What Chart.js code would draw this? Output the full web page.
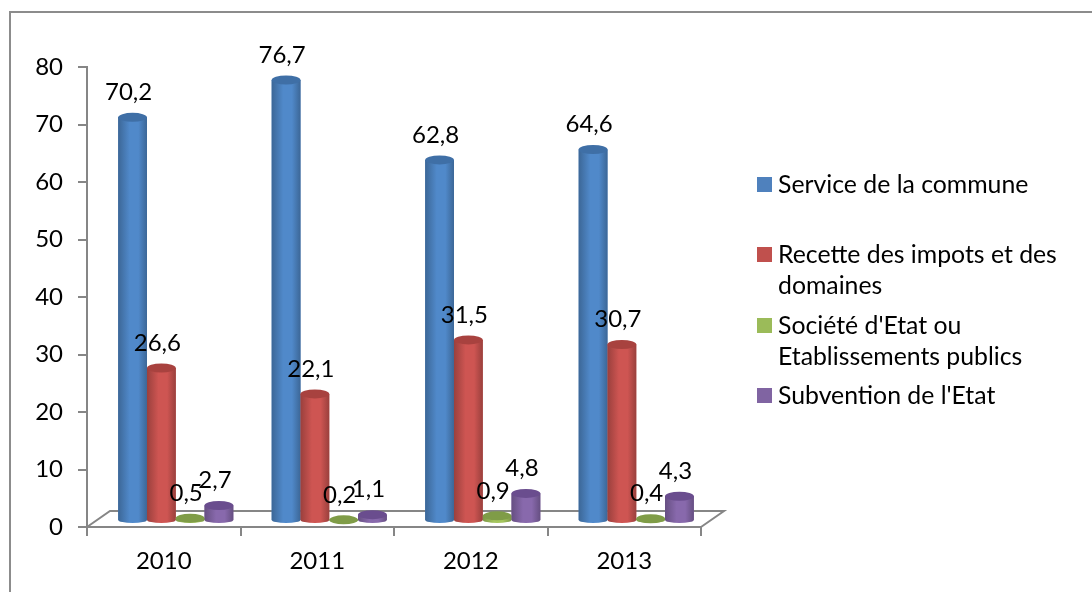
<!DOCTYPE html>
<html>
<head>
<meta charset="utf-8">
<script src="https://cdn.jsdelivr.net/npm/chart.js@4"></script>
<style>
  html, body { margin: 0; padding: 0; background: #fff; overflow: hidden; }
  #frame { position: absolute; left: 9px; top: 11px; width: 1200px; height: 700px; border: 2px solid #8c8c8c; }
  #wrap { position: absolute; left: 0; top: 0; width: 1092px; height: 592px; }
</style>
</head>
<body>
<div id="frame"></div>
<div id="wrap"><canvas id="chart" width="1092" height="592"></canvas></div>
<script>
// Données
const years = ["2010", "2011", "2012", "2013"];
const serviceCommune = [70.2, 76.7, 62.8, 64.6];
const recetteImpots = [26.6, 22.1, 31.5, 30.7];
const societeEtat = [0.5, 0.2, 0.9, 0.4];
const subventionEtat = [2.7, 1.1, 4.8, 4.3];

const seriesNames = [
    ["Service de la commune"],
    ["Recette des impots et des", "domaines"],
    ["Société d'Etat ou", "Etablissements publics"],
    ["Subvention de l'Etat"]
];
const seriesColors = ["#4f81bd", "#c0504d", "#9bbb59", "#8064a2"];
const edgeColors = ["#3c6797", "#9a403d", "#7c9647", "#664f82"];
const lightColors = ["#5089ca", "#ce5552", "#a5c65e", "#8869ac"];
const topColors = ["#3f6fa6", "#a8423f", "#7f9c47", "#6a4d8e"];

const LABEL_FONT = '24px Lato';
const LEGEND_FONT = '24.8px Lato';
const AXIS_COLOR = "#868686";
const DEPTH_X = 23, DEPTH_Y = 16;

// Décalage des barres vers le fond du plancher 3D
const BAR_SHIFT_X = 12, BAR_SHIFT_Y = -6;

// Plancher en perspective, derrière les barres
const floorPlugin = {
    id: "floor",
    beforeDatasetsDraw(chart) {
        const { ctx, chartArea: a } = chart;
        ctx.save();
        ctx.strokeStyle = AXIS_COLOR;
        ctx.lineWidth = 2;
        ctx.beginPath();
        ctx.moveTo(a.left, a.bottom);
        ctx.lineTo(a.left + DEPTH_X, a.bottom - DEPTH_Y);
        ctx.lineTo(a.right + DEPTH_X, a.bottom - DEPTH_Y);
        ctx.lineTo(a.right, a.bottom);
        ctx.stroke();
        ctx.restore();
        ctx.save();
        ctx.translate(BAR_SHIFT_X, BAR_SHIFT_Y);
    },
    afterDatasetsDraw(chart) {
        const { ctx } = chart;
        // Cylindres posés sur les barres de la librairie
        chart.data.datasets.forEach((ds, i) => {
            chart.getDatasetMeta(i).data.forEach(bar => {
                drawCylinder(ctx, bar, i);
            });
        });
        // Étiquettes de valeurs
        ctx.font = LABEL_FONT;
        ctx.fillStyle = "#000";
        ctx.textAlign = "center";
        ctx.textBaseline = "middle";
        chart.data.datasets.forEach((ds, i) => {
            chart.getDatasetMeta(i).data.forEach((bar, j) => {
                ctx.fillText(String(ds.data[j]).replace(".", ","), bar.x - 4, bar.y - 25);
            });
        });
        ctx.restore();
    }
};

function drawCylinder(ctx, bar, i) {
    const left = bar.x - bar.width / 2, right = bar.x + bar.width / 2;
    const rx = bar.width / 2, ryTop = 4.5, ryBottom = 3;
    const grad = ctx.createLinearGradient(left, 0, right, 0);
    grad.addColorStop(0, edgeColors[i]);
    grad.addColorStop(0.4, lightColors[i]);
    grad.addColorStop(0.7, lightColors[i]);
    grad.addColorStop(1, edgeColors[i]);
    ctx.fillStyle = grad;
    ctx.beginPath();
    ctx.moveTo(left, bar.y);
    ctx.lineTo(left, bar.base);
    ctx.ellipse(bar.x, bar.base, rx, ryBottom, 0, Math.PI, 0, true);
    ctx.lineTo(right, bar.y);
    ctx.closePath();
    ctx.fill();
    ctx.fillStyle = topColors[i];
    ctx.beginPath();
    ctx.ellipse(bar.x, bar.y, rx, ryTop, 0, 0, Math.PI * 2);
    ctx.fill();
}

// Légende à droite, sur une ou deux lignes
const legendBoxes = [177, 247, 318, 388];
const legendPlugin = {
    id: "sideLegend",
    afterDraw(chart) {
        const { ctx } = chart;
        ctx.save();
        ctx.font = LEGEND_FONT;
        ctx.textAlign = "left";
        ctx.textBaseline = "middle";
        seriesNames.forEach((lines, i) => {
            ctx.fillStyle = seriesColors[i];
            ctx.fillRect(757, legendBoxes[i], 15, 15);
            ctx.fillStyle = "#000";
            lines.forEach((line, k) => {
                ctx.fillText(line, 778, legendBoxes[i] + 8 + k * 31);
            });
        });
        ctx.restore();
    }
};

new Chart(document.getElementById("chart"), {
    type: "bar",
    data: {
        labels: years,
        datasets: [serviceCommune, recetteImpots, societeEtat, subventionEtat].map((values, i) => ({
            label: seriesNames[i].join(" "),
            data: values,
            backgroundColor: seriesColors[i],
            borderWidth: 0,
            barPercentage: 1,
            categoryPercentage: 0.75,
            clip: false
        }))
    },
    options: {
        responsive: false,
        animation: false,
        layout: { padding: { top: 67, right: 391, left: 0, bottom: 0 } },
        plugins: { legend: { display: false }, tooltip: { enabled: false } },
        scales: {
            x: {
                afterFit(scale) { scale.height = 65; },
                border: { color: AXIS_COLOR, width: 2 },
                grid: { drawOnChartArea: false, color: AXIS_COLOR, lineWidth: 2, tickLength: 9 },
                ticks: { color: "#000", font: { family: "Lato", size: 24 }, padding: 11, maxRotation: 0 }
            },
            y: {
                min: 0,
                max: 80,
                afterFit(scale) { scale.width = 87; },
                border: { color: AXIS_COLOR, width: 2 },
                grid: { drawOnChartArea: false, color: AXIS_COLOR, lineWidth: 2, tickLength: 9 },
                ticks: { color: "#000", stepSize: 10, font: { family: "Lato", size: 24 }, padding: 15 }
            }
        }
    },
    plugins: [floorPlugin, legendPlugin]
});
</script>
</body>
</html>
